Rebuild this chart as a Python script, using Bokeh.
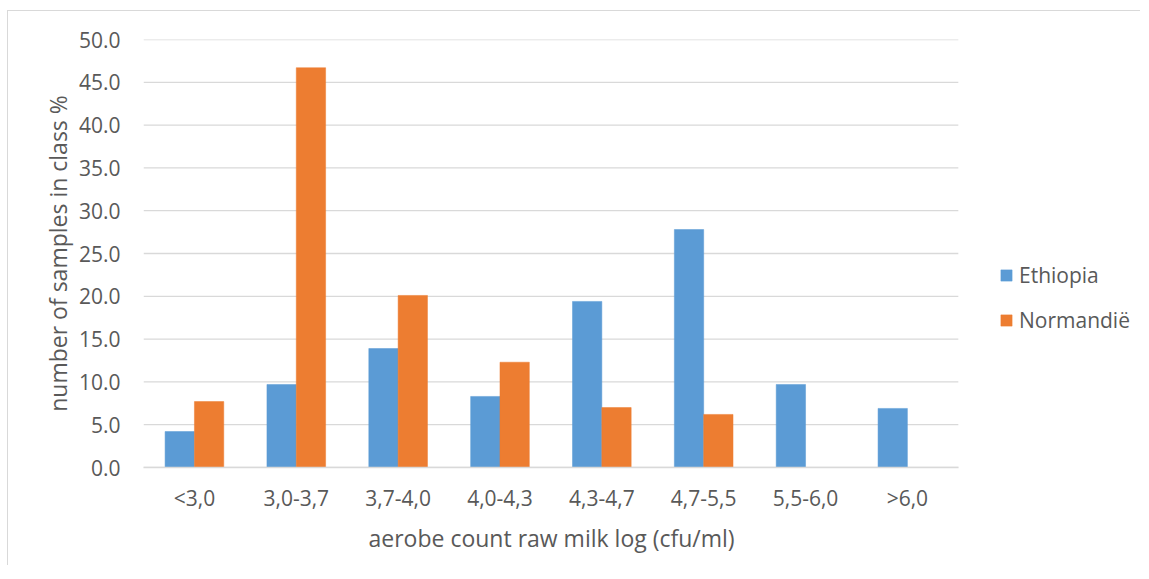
from bokeh.plotting import figure
from bokeh.models import Range1d, Legend, LegendItem, SingleIntervalTicker, FixedTicker, PrintfTickFormatter, Title
from bokeh.embed import file_html
from bokeh.resources import INLINE
from bokeh.models import ColumnDataSource

categories = ["<3,0", "3,0-3,7", "3,7-4,0", "4,0-4,3", "4,3-4,7", "4,7-5,5", "5,5-6,0", ">6,0"]
ethiopia = [4.2, 9.7, 13.9, 8.3, 19.4, 27.8, 9.7, 6.9]
normandie = [7.7, 46.7, 20.1, 12.3, 7.0, 6.2, 0.0, 0.0]
y_max = 50
y_ticks_step = 5

FONT = "Open Sans"
TXT = "#595959"
GRID = "#d9d9d9"

n = len(categories)
idx = list(range(n))
bw = 0.288
src = ColumnDataSource(dict(
    x_eth=[i - bw / 2 for i in idx], x_nor=[i + bw / 2 for i in idx],
    eth=ethiopia, nor=normandie))

W, H = 1133, 555
MB_L, MB_R = 135, 2
# plot frame extends to the right edge; bars and grid occupy categories only
x_end = -0.5 + (W - MB_L - MB_R - 1) / 101.75
p = figure(x_range=Range1d(-0.5, x_end), y_range=Range1d(0, y_max),
           width=W, height=H, output_backend="svg", toolbar_location=None,
           min_border_left=MB_L, min_border_top=28, min_border_bottom=99, min_border_right=MB_R)
p.styles = {"border-left": "1px solid #d9d9d9", "border-top": "1px solid #d9d9d9",
            "box-sizing": "border-box", "margin-left": "7px", "margin-top": "10px"}

# horizontal gridlines limited to the category area
grid_y = list(range(0, y_max + 1, y_ticks_step))
p.segment(x0=[-0.5] * len(grid_y), x1=[n - 0.5] * len(grid_y), y0=grid_y, y1=grid_y,
          line_color=GRID, line_width=1.3, level="underlay")

r1 = p.vbar(x="x_eth", top="eth", width=bw, source=src,
            fill_color="#5B9BD5", line_color="#5B9BD5", line_width=0.5)
r2 = p.vbar(x="x_nor", top="nor", width=bw, source=src,
            fill_color="#ED7D31", line_color="#ED7D31", line_width=0.5)

p.outline_line_color = None
p.xgrid.grid_line_color = None
p.ygrid.grid_line_color = None

p.yaxis.ticker = SingleIntervalTicker(interval=y_ticks_step)
p.yaxis.formatter = PrintfTickFormatter(format="%.1f")
p.yaxis.axis_line_color = None
p.yaxis.major_tick_line_color = None
p.yaxis.minor_tick_line_color = None
p.yaxis.major_tick_out = 0
p.yaxis.minor_tick_out = 0
p.yaxis.major_label_standoff = 23
p.yaxis.axis_label = "number of samples in class %"
p.yaxis.axis_label_standoff = 2

p.xaxis.ticker = FixedTicker(ticks=idx)
p.xaxis.major_label_overrides = {i: c for i, c in zip(idx, categories)}
p.xaxis.bounds = (-0.5, n - 0.5)
p.xaxis.axis_line_color = GRID
p.xaxis.axis_line_width = 1.3
p.xaxis.major_tick_line_color = None
p.xaxis.minor_tick_line_color = None
p.xaxis.major_tick_out = 0
p.xaxis.minor_tick_out = 0
p.xaxis.major_label_standoff = 16

for ax in (p.xaxis, p.yaxis):
    ax.major_label_text_font = FONT
    ax.major_label_text_font_size = "21px"
    ax.major_label_text_color = TXT
    ax.axis_label_text_font = FONT
    ax.axis_label_text_font_size = "23px"
    ax.axis_label_text_font_style = "normal"
    ax.axis_label_text_color = TXT

# x-axis title, centred under the category area
xtitle = Title(text="aerobe count raw milk log (cfu/ml)", align="left", offset=225,
               text_font=FONT, text_font_size="23px", text_font_style="normal",
               text_color=TXT, standoff=10)
p.add_layout(xtitle, "below")

legend = Legend(items=[LegendItem(label="Ethiopia", renderers=[r1]),
                       LegendItem(label="Normandië", renderers=[r2])],
                location=(856, 133), orientation="vertical",
                glyph_width=14, glyph_height=14, label_standoff=6,
                padding=0, margin=0, spacing=17,
                label_text_font=FONT, label_text_font_size="21px", label_text_color=TXT,
                border_line_color=None, background_fill_alpha=0)
p.add_layout(legend, "center")

open("out.html", "w").write(file_html(p, INLINE))
